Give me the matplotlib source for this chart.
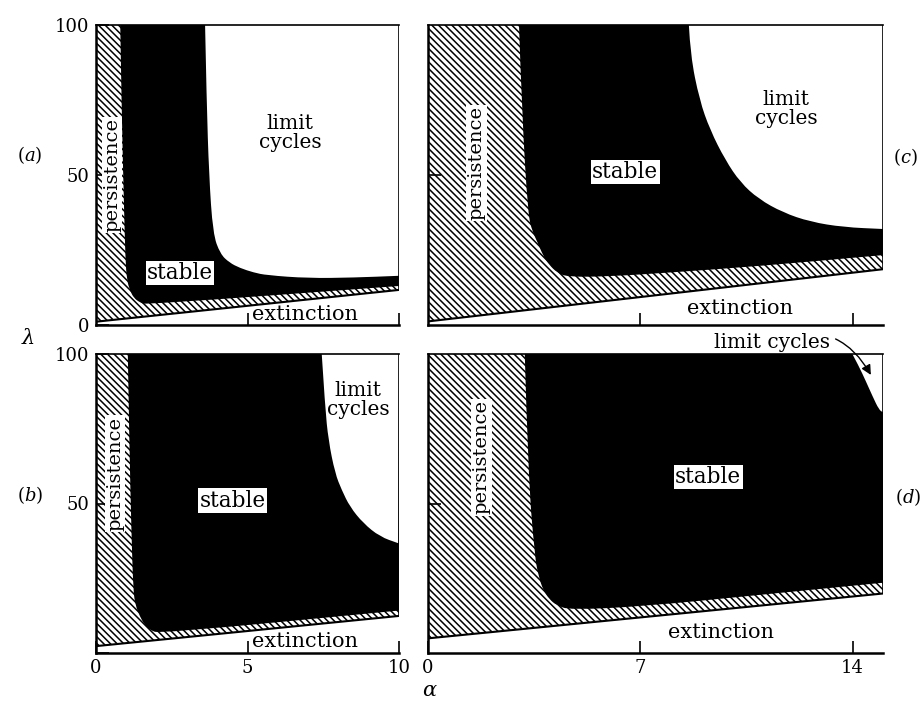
import matplotlib.pyplot as plt
from matplotlib.path import Path
from matplotlib.patches import PathPatch

plt.rcParams['font.family'] = 'DejaVu Serif'
plt.rcParams['mathtext.fontset'] = 'dejavuserif'
plt.rcParams['hatch.linewidth'] = 1.1

# ---- panel data (alpha on x, lambda on y) ----
# extinction line: lambda at alpha=0 and alpha=max
ext_a = [1.1, 11.7]
ext_b = [2.3, 12.4]
ext_c = [1.2, 18.6]
ext_d = [4.9, 19.9]

# edge of the black "stable" region (persistence side, then bottom)
stab_a_x = [0.80, 0.85, 0.92, 0.97, 1.02, 1.12, 1.25, 1.45, 1.65, 10.0]
stab_a_y = [100, 70, 41, 22, 15, 11.5, 9.0, 7.5, 6.8, 13.0]
stab_b_x = [1.05, 1.10, 1.17, 1.23, 1.30, 1.45, 1.60, 1.78, 2.10, 10.0]
stab_b_y = [100, 70, 40, 21, 16, 12.2, 9.5, 7.7, 6.5, 14.2]
stab_c_x = [3.00, 3.10, 3.30, 3.45, 3.60, 3.80, 4.00, 4.25, 4.60, 6.0, 8.0, 11.0, 15.0]
stab_c_y = [100, 70, 36.4, 31, 27.8, 23, 20, 17.5, 16.0, 16.2, 17.5, 19.7, 23.3]
stab_d_x = [3.19, 3.30, 3.52, 3.65, 3.80, 4.00, 4.23, 4.67, 7.1, 11.0, 15.0]
stab_d_y = [100, 60, 32.2, 25.5, 21, 18, 16, 14.4, 15.6, 19.5, 23.5]

# edge of the white "limit cycles" region
lc_a_x = [3.60, 3.65, 3.73, 3.86, 4.10, 4.40, 4.75, 5.20, 5.63, 7.0, 8.5, 10.0]
lc_a_y = [100, 75, 50, 30.4, 23.7, 20.8, 19.0, 17.5, 16.6, 15.6, 15.8, 16.4]
lc_b_x = [7.45, 7.56, 7.67, 7.89, 8.11, 8.38, 8.82, 9.37, 9.98]
lc_b_y = [100, 82.4, 71.2, 60.1, 54.5, 48.9, 43.4, 38.9, 36.7]
lc_c_x = [8.60, 8.65, 8.95, 9.30, 9.80, 10.3, 10.9, 11.7, 12.6, 13.7, 15.0]
lc_c_y = [100, 90, 75, 65, 55, 47.5, 42, 37.5, 34.4, 32.6, 32.0]
lc_d_x = [13.99, 14.20, 14.43, 14.65, 14.87, 15.0]
lc_d_y = [100, 96, 91, 86, 81.3, 80.5]


fig = plt.figure(figsize=(9.23, 7.04), dpi=100)
W, H = 923, 704


def px_axes(l, t, r, b):
    return fig.add_axes([l / W, 1 - b / H, (r - l) / W, (b - t) / H])


ax_a = px_axes(96, 25, 399, 325)
ax_c = px_axes(428, 25, 883, 325)
ax_b = px_axes(96, 354, 399, 653)
ax_d = px_axes(428, 354, 883, 653)


def smooth_patch(xs, ys, corners, color):
    # quadratic bezier through the read-off edge points, then the box corners
    verts = [(xs[0], ys[0])]
    codes = [Path.MOVETO]
    for i in range(1, len(xs) - 1):
        verts += [(xs[i], ys[i]),
                  ((xs[i] + xs[i + 1]) / 2, (ys[i] + ys[i + 1]) / 2)]
        codes += [Path.CURVE3, Path.CURVE3]
    verts.append((xs[-1], ys[-1]))
    codes.append(Path.LINETO)
    for c in corners:
        verts.append(c)
        codes.append(Path.LINETO)
    verts.append(verts[0])
    codes.append(Path.CLOSEPOLY)
    return PathPatch(Path(verts, codes), facecolor=color, edgecolor='none')


def draw_panel(ax, xmax, ext, st_x, st_y, lc_x, lc_y):
    # hatched area: everything above the extinction line
    ax.fill([0, xmax, xmax, 0], [ext[0], ext[1], 100, 100],
            facecolor='white', edgecolor='black', hatch='\\\\\\\\\\',
            linewidth=0)
    # stable region
    ax.add_patch(smooth_patch(st_x, st_y, [(xmax, 100)], 'black'))
    # limit cycles
    ax.add_patch(smooth_patch(lc_x, lc_y, [(xmax, 100)], 'white'))
    # extinction line and right border
    ax.plot([0, xmax], ext, color='black', lw=1.5, solid_capstyle='butt')
    ax.plot([xmax, xmax], [ext[1], 100], color='black', lw=1.2)

    ax.set_xlim(0, xmax)
    ax.set_ylim(0, 100)
    ax.spines['right'].set_visible(False)
    ax.spines['top'].set_linewidth(1.2)
    ax.spines['left'].set_linewidth(1.8)
    ax.spines['bottom'].set_linewidth(1.8)
    ax.tick_params(direction='in', length=9, width=1.2, labelsize=13,
                   colors='black', pad=4)
    ax.tick_params(axis='y', pad=5)


draw_panel(ax_a, 10, ext_a, stab_a_x, stab_a_y, lc_a_x, lc_a_y)
draw_panel(ax_b, 10, ext_b, stab_b_x, stab_b_y, lc_b_x, lc_b_y)
draw_panel(ax_c, 15, ext_c, stab_c_x, stab_c_y, lc_c_x, lc_c_y)
draw_panel(ax_d, 15, ext_d, stab_d_x, stab_d_y, lc_d_x, lc_d_y)

# ticks
ax_a.set_xticks([5, 10], ['', ''])
ax_a.set_yticks([0, 50, 100], ['0', '50', '100'])
ax_b.set_xticks([0, 5, 10], ['0', '5', '10'])
ax_b.set_yticks([0, 50, 100], ['', '50', '100'])
ax_c.set_xticks([7, 14], ['', ''])
ax_c.set_yticks([50], [''])
ax_d.set_xticks([0, 7, 14], ['0', '7', '14'])
ax_d.set_yticks([50], [''])

box = dict(facecolor='white', edgecolor='none', pad=1.0)
fs_st, fs_lc, fs_pe, fs_ex = 15.5, 14.5, 14, 15

# panel (a)
ax_a.text(2.77, 17.4, 'stable', fontsize=fs_st, ha='center', va='center', bbox=box)
ax_a.text(6.4, 64, 'limit\ncycles', fontsize=fs_lc, ha='center', va='center',
          linespacing=1.0)
ax_a.text(0.53, 50, 'persistence', fontsize=fs_pe, rotation=90, ha='center',
          va='center', bbox=box)
ax_a.text(6.9, 3.4, 'extinction', fontsize=fs_ex, ha='center', va='center')

# panel (b)
ax_b.text(4.5, 51, 'stable', fontsize=fs_st, ha='center', va='center', bbox=box)
ax_b.text(8.65, 84.6, 'limit\ncycles', fontsize=fs_lc, ha='center', va='center',
          linespacing=1.0)
ax_b.text(0.63, 60, 'persistence', fontsize=fs_pe, rotation=90, ha='center',
          va='center', bbox=box)
ax_b.text(6.9, 4.0, 'extinction', fontsize=fs_ex, ha='center', va='center')

# panel (c)
ax_c.text(6.5, 51, 'stable', fontsize=fs_st, ha='center', va='center', bbox=box)
ax_c.text(11.8, 72, 'limit\ncycles', fontsize=fs_lc, ha='center', va='center',
          linespacing=1.0)
ax_c.text(1.6, 54, 'persistence', fontsize=fs_pe, rotation=90, ha='center',
          va='center', bbox=box)
ax_c.text(10.3, 5.6, 'extinction', fontsize=fs_ex, ha='center', va='center')

# panel (d)
ax_d.text(9.24, 58.9, 'stable', fontsize=fs_st, ha='center', va='center', bbox=box)
ax_d.text(1.77, 65.5, 'persistence', fontsize=fs_pe, rotation=90, ha='center',
          va='center', bbox=box)
ax_d.text(9.67, 7.0, 'extinction', fontsize=fs_ex, ha='center', va='center')
ax_d.annotate('limit cycles', xy=(14.6, 93), xytext=(11.35, 104),
              fontsize=fs_lc, ha='center', va='center', annotation_clip=False,
              arrowprops=dict(arrowstyle='-|>', color='black', lw=1.0,
                              connectionstyle='arc3,rad=-0.45',
                              shrinkA=2, shrinkB=0))

# panel letters and axis symbols
fig.text(30 / W, 1 - 155 / H, '$(a)$', fontsize=13, ha='center', va='center')
fig.text(30 / W, 1 - 495 / H, '$(b)$', fontsize=13, ha='center', va='center')
fig.text(905 / W, 1 - 157 / H, '$(c)$', fontsize=13, ha='center', va='center')
fig.text(921 / W, 1 - 497 / H, '$(d)$', fontsize=13, ha='right', va='center')
fig.text(28 / W, 1 - 338 / H, r'$\lambda$', fontsize=15, ha='center', va='center')
fig.text(430 / W, 1 - 690 / H, r'$\alpha$', fontsize=15, ha='center', va='center')

fig.savefig('out.png', dpi=100)
